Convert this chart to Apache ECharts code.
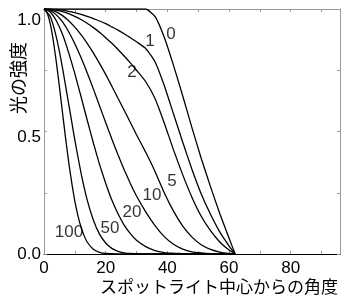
<!DOCTYPE html>
<html><head><meta charset="utf-8">
<script src="https://cdn.jsdelivr.net/npm/echarts@6/dist/echarts.min.js"></script>
<style>html,body{margin:0;padding:0;background:#fff}#c{width:354px;height:303px}</style>
</head><body><div id="c"></div>
<script>
const angles = [0,2,4,6,8,10,12,14,16,18,20,22,24,26,28,30,33,36,39,42,45,48,51,54,57,60,62];
const curve0 = [1,1,1,1,1,1,1,1,1,1,1,1,1,1,1,1, 1,0.97,0.885,0.77,0.645,0.515,0.39,0.275,0.165,0.065,0];
const curve1 = [1,0.999,0.998,0.995,0.990,0.985,0.978,0.970,0.961,0.951,0.940,0.927,0.914,0.899,0.883,0.866, 0.839,0.785,0.688,0.572,0.456,0.345,0.245,0.162,0.090,0.033,0];
const curve2 = [1,0.999,0.995,0.989,0.981,0.970,0.957,0.942,0.924,0.905,0.883,0.860,0.835,0.808,0.780,0.750, 0.703,0.635,0.535,0.425,0.323,0.231,0.154,0.095,0.049,0.016,0];
const curve5 = [1,0.997,0.988,0.973,0.952,0.926,0.895,0.860,0.821,0.778,0.733,0.685,0.636,0.587,0.537,0.487, 0.415,0.337,0.250,0.175,0.114,0.069,0.038,0.019,0.008,0.002,0];
const curve10 = [1,0.994,0.976,0.947,0.907,0.858,0.802,0.740,0.674,0.605,0.537,0.469,0.405,0.344,0.288,0.237, 0.172,0.116,0.071,0.040,0.020,0.009,0.004,0.001,0,0,0];
const curve20 = [1,0.988,0.952,0.897,0.822,0.736,0.643,0.547,0.454,0.366,0.289,0.220,0.164,0.118,0.083,0.056, 0.030,0.014,0.006,0.003,0.001,0,0,0,0,0,0];
const curve50 = [1,0.970,0.885,0.760,0.613,0.465,0.331,0.221,0.139,0.081,0.045,0.023,0.011,0.005,0.002,0.001, 0,0,0,0,0,0,0,0,0,0,0];
const angles100 = [0,1,2,3,4,5,6,7,8,9,10,11,12,13,14,16,18,20,24,30,40,50,62];
const curve100 = [1,0.985,0.941,0.872,0.783,0.683,0.577,0.473,0.376,0.290,0.216,0.157,0.110,0.075,0.049,0.019,0.007,0.002,0,0,0,0,0];

const curveNames = ['0','1','2','5','10','20','50','100'];
const labelX = [41.2,34.4,28.5,41.5,35.0,28.5,21.4,8.1];
const labelY = [0.898,0.869,0.743,0.298,0.241,0.171,0.106,0.09];

const xTicks = [0,20,40,60,80];
const yTicks = [0.0,0.5,1.0];
const xTitle = 'スポットライト中心からの角度';
const yTitle = '光の強度';

const num = 'Liberation Sans';
const jp = 'Noto Sans CJK JP';

function mk(xs, ys){ return xs.map((a,i)=>[a, ys[i]]); }
const curveSets = [
  [angles,curve0],[angles,curve1],[angles,curve2],[angles,curve5],
  [angles,curve10],[angles,curve20],[angles,curve50],[angles100,curve100]
];

const series = curveSets.map((c,i)=>({
  type:'line', name:curveNames[i], data:mk(c[0],c[1]), showSymbol:false,
  smooth:0.15,
  lineStyle:{color:'#000', width:1.3}, silent:true, z:3
}));
series.push({
  type:'scatter', data:labelX.map((x,i)=>[x,labelY[i],curveNames[i]]), symbolSize:0,
  label:{show:true, position:'inside', formatter:p=>p.data[2], color:'#000', fontFamily:num, fontSize:17},
  silent:true, z:4
});

const tickStyle = {show:true, inside:true, length:3, lineStyle:{color:'#999', width:1}};
const chart = echarts.init(document.getElementById('c'), null, {renderer:'canvas'});
chart.setOption({
  animation:false,
  backgroundColor:'#fff',
  grid:{left:44, right:14, top:9, bottom:49, containLabel:false},
  xAxis:[{
    type:'value', min:0, max:96, interval:10, position:'bottom',
    axisLine:{show:true, lineStyle:{color:'#000', width:1.2}},
    axisTick:tickStyle,
    splitLine:{show:false},
    axisLabel:{margin:6, color:'#000', fontFamily:num, fontSize:17,
      formatter:v=> xTicks.indexOf(v)>=0 ? String(v) : '', showMaxLabel:false}
  },{
    type:'value', min:0, max:96, interval:10, position:'top',
    axisLine:{show:true, onZero:false, lineStyle:{color:'#999', width:1}},
    axisTick:tickStyle, axisLabel:{show:false}, splitLine:{show:false}
  }],
  yAxis:[{
    type:'value', min:0, max:1, interval:0.25, position:'left',
    axisLine:{show:true, lineStyle:{color:'#999', width:1}},
    axisTick:tickStyle, splitLine:{show:false},
    axisLabel:{margin:3, color:'#000', fontFamily:num, fontSize:17,
      formatter:v=>{
        const t = yTicks.find(k=>Math.abs(k-v)<1e-6);
        if(t===undefined) return '';
        if(t===1) return '{a|1.0}';
        if(t===0.5) return '{b|0.5}';
        return '{c|0.0}';
      },
      rich:{
        a:{fontFamily:num, fontSize:17, color:'#000', padding:[22,0,0,0]},
        b:{fontFamily:num, fontSize:17, color:'#000', padding:[11,0,0,0]},
        c:{fontFamily:num, fontSize:17, color:'#000', padding:[0,0,0,0]}
      }
    }
  },{
    type:'value', min:0, max:1, interval:0.25, position:'right',
    axisLine:{show:true, onZero:false, lineStyle:{color:'#999', width:1}},
    axisTick:tickStyle, axisLabel:{show:false}, splitLine:{show:false}
  }],
  graphic:[
    {type:'text', x:219, y:287, style:{text:xTitle, fontFamily:jp, fontSize:17, fill:'#000', textAlign:'center', textVerticalAlign:'middle'}},
    {type:'text', x:18, y:78, rotation:Math.PI/2, style:{text:yTitle, fontFamily:jp, fontSize:18, fill:'#000', textAlign:'center', textVerticalAlign:'middle'}}
  ],
  series:series
});
</script>
</body></html>
